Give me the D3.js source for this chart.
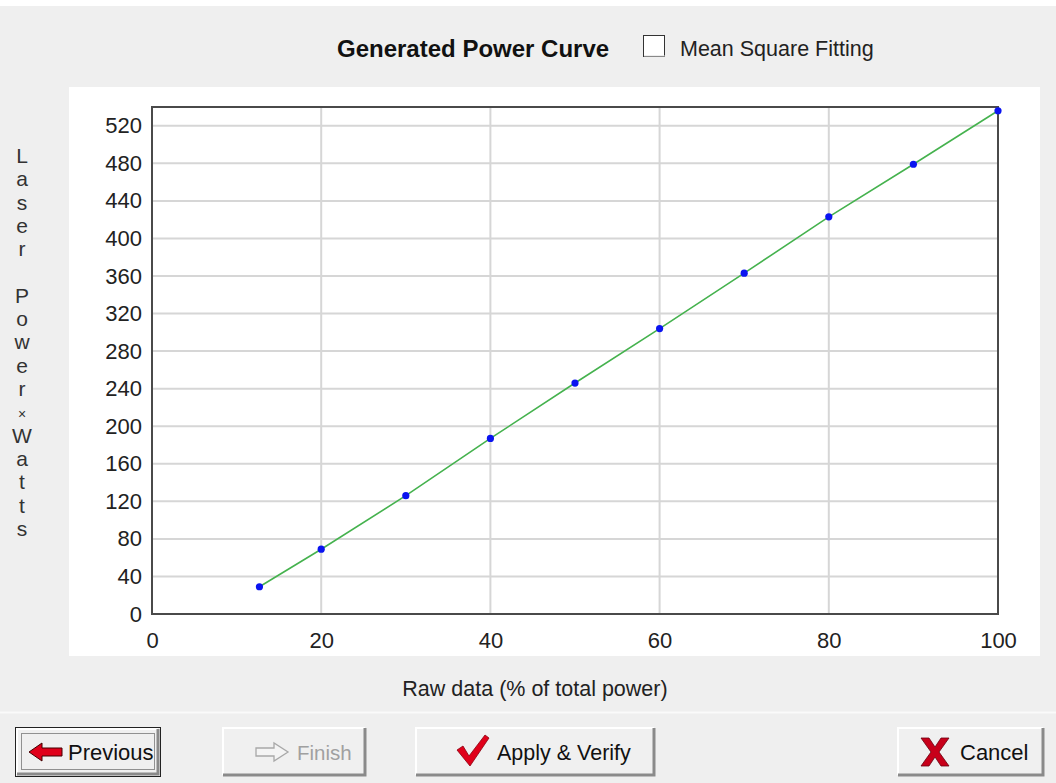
<!DOCTYPE html>
<html>
<head>
<meta charset="utf-8">
<script src="https://cdn.jsdelivr.net/npm/d3@7"></script>
<style>
  html, body { margin: 0; padding: 0; background: #efefef; }
  svg { display: block; }
  text { font-family: "Liberation Sans", Arial, sans-serif; }
</style>
</head>
<body>
<svg id="chart" width="1056" height="783"></svg>
<script>
// ---- data ----
const rawPercent = [12.7, 20, 30, 40, 50, 60, 70, 80, 90, 100];
const laserWatts = [29, 69, 126, 187, 246, 304, 363, 423, 479, 536];
const yTicks = [0, 40, 80, 120, 160, 200, 240, 280, 320, 360, 400, 440, 480, 520];
const xTicks = [0, 20, 40, 60, 80, 100];
const titleText = "Generated Power Curve";
const checkboxLabel = "Mean Square Fitting";
const xLabel = "Raw data (% of total power)";
const yLabelChars = "Laser Power×Watts".split("");
const buttons = [
  {label: "Previous", x: 15, w: 146, icon: "prev", enabled: true, focused: true},
  {label: "Finish", x: 222, w: 145, icon: "finish", enabled: false},
  {label: "Apply & Verify", x: 415, w: 241, icon: "check", enabled: true},
  {label: "Cancel", x: 897, w: 148, icon: "cancel", enabled: true}
];

const svg = d3.select("#chart");

// window background
svg.append("rect").attr("x", 0).attr("y", 0).attr("width", 1056).attr("height", 783).attr("fill", "#efefef");
svg.append("rect").attr("x", 0).attr("y", 0).attr("width", 1056).attr("height", 6).attr("fill", "#ffffff");
// chart white panel
svg.append("rect").attr("x", 69).attr("y", 87).attr("width", 971).attr("height", 569).attr("fill", "#ffffff");

// title + checkbox
svg.append("text").attr("x", 337).attr("y", 57).attr("font-size", 24).attr("font-weight", "bold")
  .attr("fill", "#111").text(titleText);
svg.append("rect").attr("x", 643.5).attr("y", 35.5).attr("width", 21).attr("height", 21)
  .attr("fill", "#fff").attr("stroke", "#333").attr("stroke-width", 1);
svg.append("line").attr("x1", 644).attr("y1", 56).attr("x2", 665).attr("y2", 56).attr("stroke", "#ddd");
svg.append("text").attr("x", 680).attr("y", 56).attr("font-size", 21.5).attr("fill", "#222").text(checkboxLabel);

// plot area
const L = 152, R = 998, T = 107, B = 614;
const x = d3.scaleLinear().domain([0, 100]).range([L, R]);
const y = d3.scaleLinear().domain([0, 540]).range([B, T]);

// gridlines
const grid = svg.append("g");
grid.selectAll("line.h").data(yTicks.filter(d => d > 0)).enter().append("line")
  .attr("x1", L).attr("x2", R).attr("y1", d => y(d)).attr("y2", d => y(d))
  .attr("stroke", "#d6d6d6").attr("stroke-width", 2);
grid.selectAll("line.v").data(xTicks.filter(d => d > 0 && d < 100)).enter().append("line")
  .attr("y1", T).attr("y2", B).attr("x1", d => x(d)).attr("x2", d => x(d))
  .attr("stroke", "#d6d6d6").attr("stroke-width", 2);

// axes via d3 axis
const yAxis = d3.axisLeft(y).tickValues(yTicks).tickSize(0).tickPadding(10);
const gy = svg.append("g").attr("transform", `translate(${L},0)`).call(yAxis);
gy.select(".domain").remove();
gy.selectAll("text").attr("font-size", 22).attr("fill", "#222").attr("font-family", "Liberation Sans, Arial, sans-serif");

const xAxis = d3.axisBottom(x).tickValues(xTicks).tickSize(0).tickPadding(18);
const gx = svg.append("g").attr("transform", `translate(0,${B})`).call(xAxis);
gx.select(".domain").remove();
gx.selectAll("text").attr("font-size", 22).attr("fill", "#222").attr("font-family", "Liberation Sans, Arial, sans-serif");

// frame
svg.append("rect").attr("x", L).attr("y", T).attr("width", R - L).attr("height", B - T)
  .attr("fill", "none").attr("stroke", "#4a4a4a").attr("stroke-width", 2);

// data line
const pts = rawPercent.map((d, i) => [d, laserWatts[i]]);
svg.append("path").datum(pts)
  .attr("d", d3.line().x(d => x(d[0])).y(d => y(d[1])))
  .attr("fill", "none").attr("stroke", "#45b24e").attr("stroke-width", 1.6);
svg.append("g").selectAll("circle").data(pts).enter().append("circle")
  .attr("cx", d => x(d[0])).attr("cy", d => y(d[1])).attr("r", 3.6).attr("fill", "#0a14f0");

// axis titles
svg.append("text").attr("x", 535).attr("y", 696).attr("text-anchor", "middle").attr("font-size", 21.5)
  .attr("fill", "#222").text(xLabel);
svg.append("g").selectAll("text").data(yLabelChars).enter().append("text")
  .attr("x", 22).attr("y", (d, i) => 163 + i * 23.3).attr("text-anchor", "middle")
  .attr("font-size", d => d === "×" ? 14 : 21).attr("fill", "#333").text(d => d);

// separator
svg.append("line").attr("x1", 0).attr("x2", 1056).attr("y1", 712.5).attr("y2", 712.5).attr("stroke", "#fafafa").attr("stroke-width", 2);

// buttons
const bTop = 727, bH = 50;
const bg = svg.append("g").selectAll("g").data(buttons).enter().append("g");
bg.each(function(b) {
  const g = d3.select(this);
  const x0 = b.x, y0 = bTop, w = b.w, h = bH;
  g.append("rect").attr("x", x0).attr("y", y0).attr("width", w).attr("height", h).attr("fill", "#f0f0f0");
  if (b.focused) {
    g.append("rect").attr("x", x0 + 0.5).attr("y", y0 + 0.5).attr("width", w - 1).attr("height", h - 1)
      .attr("fill", "none").attr("stroke", "#222").attr("stroke-width", 1);
  }
  const o = b.focused ? 1 : 0;
  g.append("path").attr("d", `M${x0 + o + 1},${y0 + h - o - 2} V${y0 + o + 1} H${x0 + w - o - 2}`)
    .attr("fill", "none").attr("stroke", "#ffffff").attr("stroke-width", 2);
  g.append("path").attr("d", `M${x0 + o + 1},${y0 + h - o - 2} H${x0 + w - o - 2} V${y0 + o + 1}`)
    .attr("fill", "none").attr("stroke", "#8a8a8a").attr("stroke-width", 3);
  if (b.focused) {
    g.append("rect").attr("x", x0 + 6.5).attr("y", y0 + 6.5).attr("width", w - 13).attr("height", h - 14)
      .attr("fill", "none").attr("stroke", "#333").attr("stroke-width", 1).attr("stroke-dasharray", "1,1");
  }
});

// icons
const icons = svg.append("g");
icons.append("path").attr("d", "M29,752 L42,743 L42,748 L62,748 L62,756 L42,756 L42,761 Z")
  .attr("fill", "#e0001a").attr("stroke", "#400").attr("stroke-width", 1);
icons.append("path").attr("d", "M256,748 L274,748 L274,743 L288,752 L274,761 L274,756 L256,756 Z")
  .attr("fill", "#f4f4f4").attr("stroke", "#a8a8a8").attr("stroke-width", 1.3);
icons.append("path").attr("d", "M457,750 L463,746 L469,756 L485,735 L489,738 L470,766 Z")
  .attr("fill", "#e0001a").attr("stroke", "#8a0010").attr("stroke-width", 0.8);
icons.append("path").attr("d", "M921,738 L929,738 L935,747 L941,738 L949,738 L939,752 L949,766 L941,766 L935,757 L929,766 L921,766 L931,752 Z")
  .attr("fill", "#c8001a").attr("stroke", "#6a0010").attr("stroke-width", 0.8);

// button labels
const labelPos = {"Previous": 68, "Finish": 297, "Apply & Verify": 497, "Cancel": 960};
const labelSize = {"Previous": 22, "Finish": 20.5, "Apply & Verify": 21.5, "Cancel": 22};
bg.append("text").attr("x", d => labelPos[d.label]).attr("y", 760).attr("font-size", d => labelSize[d.label])
  .attr("fill", d => d.enabled ? "#111" : "#a0a0a0").text(d => d.label);
</script>
</body>
</html>
